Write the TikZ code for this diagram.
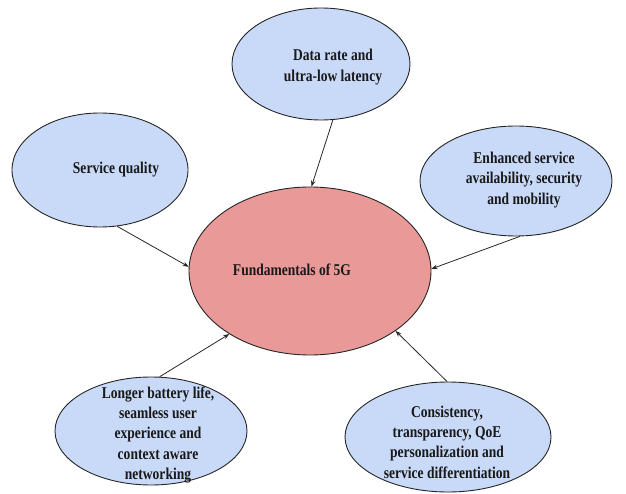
\documentclass[tikz,border=0pt]{standalone}
\usepackage{fontspec}
\setmainfont{Liberation Serif}[FakeStretch=0.82]
\usetikzlibrary{shapes.geometric,arrows.meta}
\definecolor{bubblue}{HTML}{C9DAF8}
\definecolor{bubred}{HTML}{EA9999}
\tikzset{
  bub/.style={ellipse, draw=black!85, line width=0.9pt, fill=bubblue, inner sep=0pt},
  core/.style={ellipse, draw=black!85, line width=0.9pt, fill=bubred, inner sep=0pt},
  txt/.style={align=center, inner sep=0pt, font=\fontsize{16.5}{20.3}\selectfont\bfseries, text=black!90},
  conn/.style={draw=black!85, line width=0.8pt, -{Stealth[length=6pt,width=4.5pt]}}
}
\begin{document}
\begin{tikzpicture}[x=1pt,y=-1pt]
\useasboundingbox (0,0) rectangle (626,494);
% ellipses
\node[core, minimum width=242pt, minimum height=168pt] (core) at (310,271) {};
\node[bub, minimum width=178pt, minimum height=112pt] (top) at (321,64) {};
\node[bub, minimum width=176pt, minimum height=114pt] (left) at (100,170) {};
\node[bub, minimum width=192pt, minimum height=110pt] (right) at (516,181) {};
\node[bub, minimum width=192pt, minimum height=108pt] (bl) at (151,431) {};
\node[bub, minimum width=206pt, minimum height=110pt] (br) at (448,437) {};
% texts
\node[txt] (coretxt) at (292,270) {Fundamentals of 5G};
\node[txt] (toptxt) at (333,67) {Data rate and\\ultra-low latency};
\node[txt] (lefttxt) at (116,170) {Service quality};
\node[txt] (righttxt) at (524,180) {Enhanced service\\availability, security\\and mobility};
\node[txt] (bltxt) at (158,435) {Longer battery life,\\seamless user\\experience and\\context aware\\networking};
\node[txt] (brtxt) at (447,442) {Consistency,\\transparency, QoE\\personalization and\\service differentiation};
% connectors
\draw[conn] (top.-78) -- (core.89);
\draw[conn] (left.-73) -- (core.178);
\draw[conn] (right.-86) -- (core.1);
\draw[conn] (bl.81) -- (core.-142.7);
\draw[conn] (br.91) -- (core.-35.6);
\end{tikzpicture}
\end{document}
